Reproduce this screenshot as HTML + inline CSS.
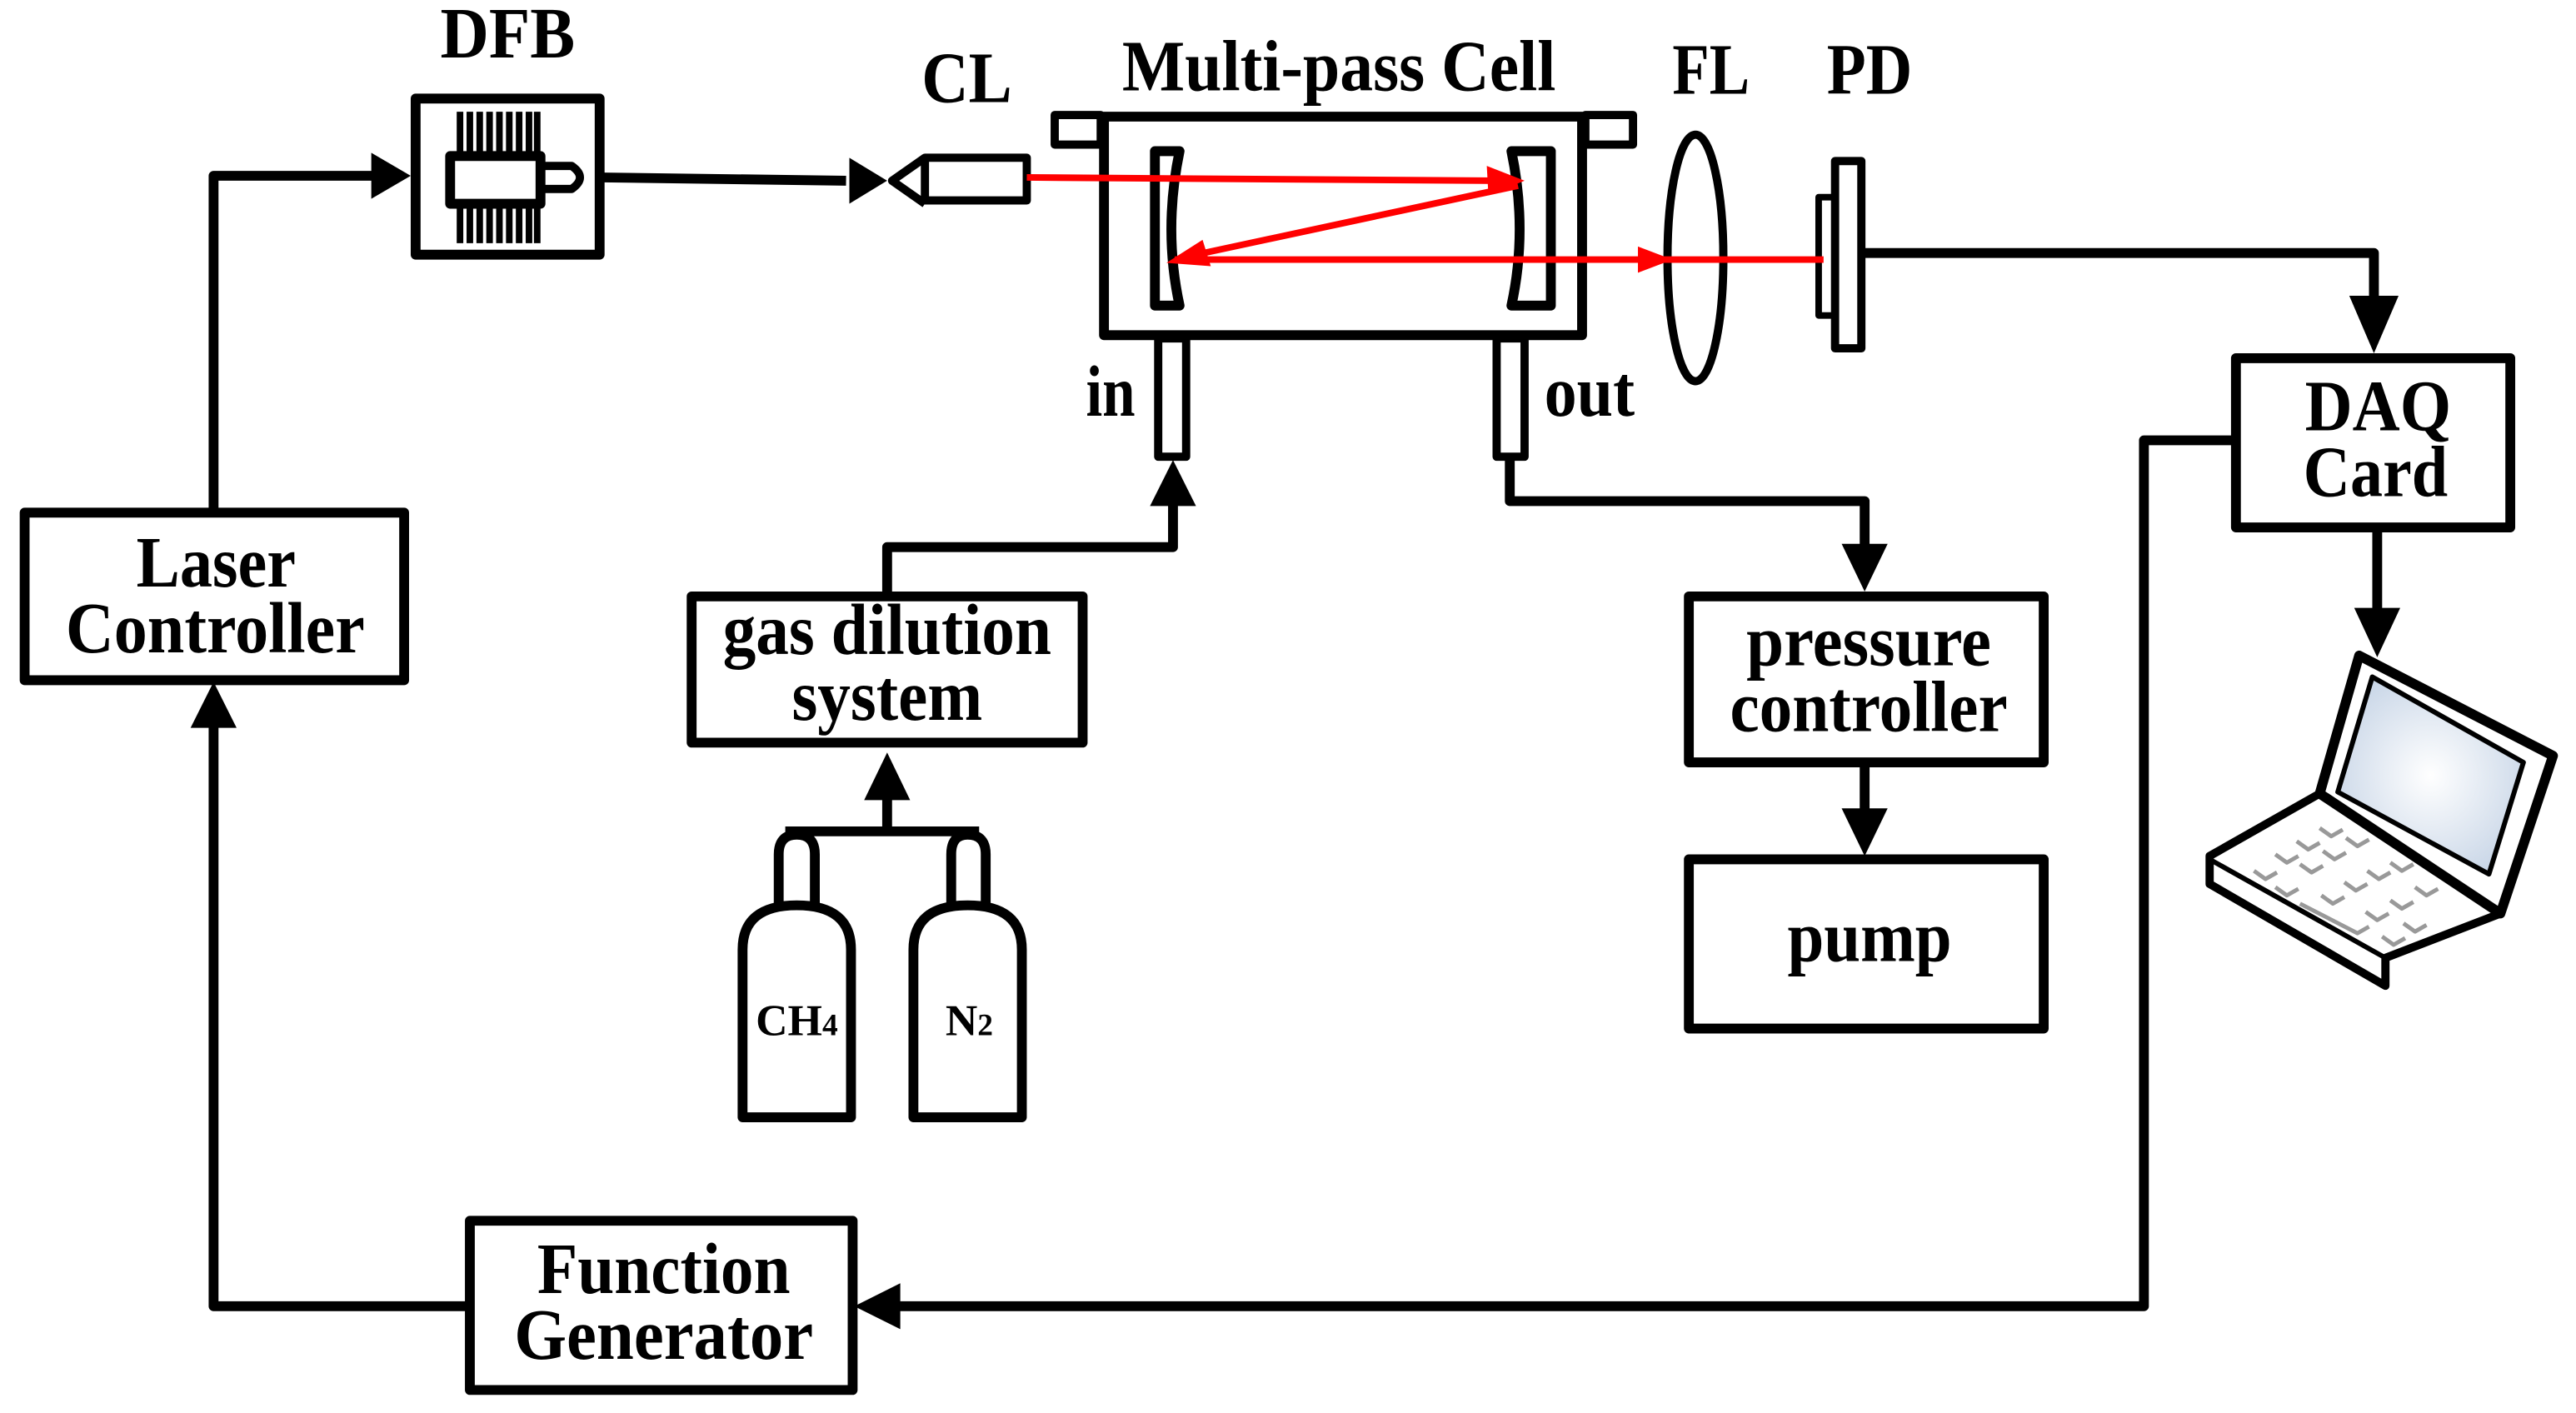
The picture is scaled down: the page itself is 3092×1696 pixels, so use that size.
<!DOCTYPE html>
<html><head><meta charset="utf-8"><style>
html,body{margin:0;padding:0;background:#fff}
svg{display:block}
text{font-family:"Liberation Serif",serif;font-weight:bold;fill:#000}
</style></head><body>
<svg width="3092" height="1696" viewBox="0 0 1568 860" preserveAspectRatio="none" xmlns="http://www.w3.org/2000/svg">
<defs>
<radialGradient id="scr" cx="0.5" cy="0.5" r="0.6"><stop offset="0" stop-color="#fff"/><stop offset="1" stop-color="#c6d4e6"/></radialGradient>
</defs>
<g fill="none" stroke="#000" stroke-width="6" stroke-linejoin="round">
<polyline points="130,310 130,107 228,107"/>
<path d="M226,93 L250,107 L226,121 z" fill="#000" stroke="none"/>
<rect x="253" y="60" width="112" height="95"/>
<g stroke-width="4">
<line x1="280" y1="68" x2="280" y2="148"/><line x1="286" y1="68" x2="286" y2="148"/><line x1="292" y1="68" x2="292" y2="148"/><line x1="298" y1="68" x2="298" y2="148"/><line x1="304" y1="68" x2="304" y2="148"/><line x1="310" y1="68" x2="310" y2="148"/><line x1="316" y1="68" x2="316" y2="148"/><line x1="322" y1="68" x2="322" y2="148"/><line x1="327" y1="68" x2="327" y2="148"/>
</g>
<rect x="274" y="95" width="55" height="29" fill="#fff" stroke-width="6"/>
<path d="M330,101 L348,101 Q358,108 348,115 L330,115" stroke-width="5"/>
<polyline points="367,108 515,110"/>
<path d="M517,96 L540,110 L517,124 z" fill="#000" stroke="none"/>
<path d="M563,96 L543,110 L563,124" stroke-width="5"/>
<rect x="563" y="96" width="62" height="26" stroke-width="5"/>
<rect x="672" y="71" width="291" height="133"/>
<rect x="642" y="70" width="28" height="18" stroke-width="5"/>
<rect x="965" y="70" width="29" height="18" stroke-width="5"/>
<path d="M718,92 L703,92 L703,186 L718,186 Q708,140 718,92 z" stroke-width="6"/>
<path d="M920,92 L944,92 L944,186 L920,186 Q930,140 920,92 z" stroke-width="6"/>
<rect x="705" y="206" width="17" height="72" stroke-width="5"/>
<rect x="911" y="206" width="17" height="72" stroke-width="5"/>
<ellipse cx="1032" cy="157" rx="17" ry="75" stroke-width="5"/>
<rect x="1117" y="98" width="16" height="114" stroke-width="5"/>
<rect x="1107" y="120" width="10" height="72" stroke-width="4"/>
<polyline points="1133,154 1445,154 1445,190"/>
<path d="M1430,180 L1460,180 L1445,215 z" fill="#000" stroke="none"/>
<rect x="1361" y="218" width="167" height="103"/>
<line x1="1447" y1="321" x2="1447" y2="375"/>
<path d="M1433,370 L1461,370 L1447,400 z" fill="#000" stroke="none"/>
<polyline points="1361,268 1305,268 1305,795 545,795"/>
<path d="M548,781 L520,795 L548,809 z" fill="#000" stroke="none"/>
<rect x="286" y="743" width="233" height="103"/>
<polyline points="286,795 130,795 130,440"/>
<path d="M116,443 L130,415 L144,443 z" fill="#000" stroke="none"/>
<rect x="15" y="312" width="231" height="102"/>
<rect x="421" y="363" width="238" height="89"/>
<polyline points="540,363 540,333 714,333 714,305"/>
<path d="M700,308 L714,280 L728,308 z" fill="#000" stroke="none"/>
<line x1="540" y1="505" x2="540" y2="485"/>
<path d="M526,487 L540,458 L554,487 z" fill="#000" stroke="none"/>
<line x1="478" y1="506" x2="596" y2="506"/>
<path d="M474,551 L474,520 Q474,508 485,508 Q496,508 496,520 L496,551" stroke-width="6"/>
<path d="M452,680 L452,578 Q452,551 485,551 Q518,551 518,578 L518,680 z" stroke-width="6"/>
<path d="M579,551 L579,520 Q579,508 589,508 Q600,508 600,520 L600,551" stroke-width="6"/>
<path d="M556,680 L556,578 Q556,551 589,551 Q622,551 622,578 L622,680 z" stroke-width="6"/>
<polyline points="919,280 919,305 1135,305 1135,335"/>
<path d="M1121,331 L1149,331 L1135,360 z" fill="#000" stroke="none"/>
<rect x="1028" y="363" width="216" height="101"/>
<line x1="1135" y1="464" x2="1135" y2="495"/>
<path d="M1121,492 L1149,492 L1135,521 z" fill="#000" stroke="none"/>
<rect x="1028" y="523" width="216" height="103"/>
<polygon points="1345,521 1412,483 1522,556 1452,583 1452,600 1345,538" fill="#fff" stroke-width="5"/>
<polyline points="1345,523 1452,583 1522,556" stroke-width="3"/>
<polygon points="1436,399 1554,460 1522,556 1412,483" fill="#fff" stroke-width="6"/>
<polygon points="1444,412 1536,464 1515,532 1423,482" fill="url(#scr)" stroke-width="3"/>
<g stroke="#999" stroke-width="2.5">
<path d="M1385,520 l7,5 l7,-4 M1398,512 l7,5 l7,-4 M1412,504 l7,5 l7,-4 M1372,530 l7,5 l7,-4 M1385,540 l7,5 l7,-4 M1400,526 l7,5 l7,-4 M1414,518 l7,5 l7,-4 M1428,510 l7,5 l7,-4 M1413,545 l7,5 l7,-4 M1427,537 l7,5 l7,-4 M1441,530 l7,5 l7,-4 M1455,525 l7,5 l7,-4 M1440,555 l7,5 l7,-4 M1455,548 l7,5 l7,-4 M1470,540 l7,5 l7,-4 M1450,570 l7,5 l7,-4 M1463,562 l7,5 l7,-4 M1400,550 l35,18 l7,-4"/>
</g>
</g>
<g stroke="#f00" stroke-width="4" fill="none">
<line x1="625" y1="108" x2="912" y2="110"/>
<line x1="924" y1="113" x2="728" y2="155"/>
<line x1="1110" y1="158" x2="715" y2="158"/>
</g>
<g fill="#f00">
<path d="M928,110 L905,101 L906,119 z"/>
<path d="M710,160 L732,146 L737,162 z"/>
<path d="M1018,158 L997,150 L997,166 z"/>
</g>
<g font-size="44" lengthAdjust="spacingAndGlyphs">
<text x="268" y="35" textLength="82" lengthAdjust="spacingAndGlyphs">DFB</text>
<text x="561" y="62" textLength="55" lengthAdjust="spacingAndGlyphs">CL</text>
<text x="683" y="55" textLength="264" lengthAdjust="spacingAndGlyphs">Multi-pass Cell</text>
<text x="1018" y="57" textLength="47" lengthAdjust="spacingAndGlyphs">FL</text>
<text x="1112" y="57" textLength="52" lengthAdjust="spacingAndGlyphs">PD</text>
<text x="661" y="253" textLength="30" lengthAdjust="spacingAndGlyphs">in</text>
<text x="940" y="253" textLength="55" lengthAdjust="spacingAndGlyphs">out</text>
<text x="1403" y="262" textLength="89" lengthAdjust="spacingAndGlyphs">DAQ</text>
<text x="1402" y="302" textLength="88" lengthAdjust="spacingAndGlyphs">Card</text>
<text x="83" y="357" textLength="97" lengthAdjust="spacingAndGlyphs">Laser</text>
<text x="40" y="397" textLength="182" lengthAdjust="spacingAndGlyphs">Controller</text>
<text x="440" y="398" textLength="200" lengthAdjust="spacingAndGlyphs">gas dilution</text>
<text x="482" y="438" textLength="116" lengthAdjust="spacingAndGlyphs">system</text>
<text x="1063" y="405" textLength="149" lengthAdjust="spacingAndGlyphs">pressure</text>
<text x="1053" y="445" textLength="169" lengthAdjust="spacingAndGlyphs">controller</text>
<text x="1088" y="585" textLength="100" lengthAdjust="spacingAndGlyphs">pump</text>
<text x="327" y="787" textLength="154" lengthAdjust="spacingAndGlyphs">Function</text>
<text x="313" y="827" textLength="182" lengthAdjust="spacingAndGlyphs">Generator</text>
</g>
<g font-size="27" text-anchor="middle">
<text x="485" y="630">CH<tspan font-size="19">4</tspan></text>
<text x="590" y="630">N<tspan font-size="19">2</tspan></text>
</g>
</svg>
</body></html>
